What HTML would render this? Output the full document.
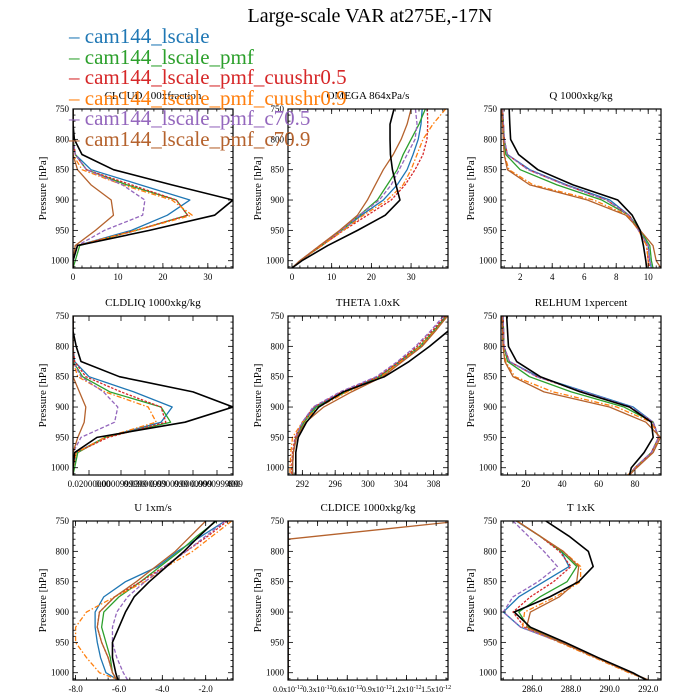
<!DOCTYPE html>
<html><head><meta charset="utf-8">
<style>
html,body{margin:0;padding:0;background:#fff;}
svg{display:block;font-family:"Liberation Serif",serif;}
</style></head>
<body>
<svg id="chart" width="700" height="700" viewBox="0 0 700 700">
<text x="370" y="22" font-size="20" text-anchor="middle">Large-scale VAR at275E,-17N</text>
<g id="panels"></g>
<g id="legend"></g>
</svg>
<script>
const levels=[750,775,800,825,850,875,900,925,950,975,1000,1012];
const cldiceLevels=[750,780,800,825,850,875,900,925,950,975,1000,1012];
const seriesNames=["obs","cam144_lscale","cam144_lscale_pmf","cam144_lscale_pmf_cuushr0.5","cam144_lscale_pmf_cuushr0.9","cam144_lscale_pmf_c70.5","cam144_lscale_pmf_c70.9"];
const seriesColors=["#000","#1f77b4","#2ca02c","#d62728","#ff7f0e","#9467bd","#b5622d"];
const seriesDash=["","","","2.5,1.5","5,2,1.5,2","4,2",""];
const seriesWidth=[1.6,1.3,1.3,1.3,1.3,1.3,1.3];

const cloudBlack=[0,0,0.3,2,9,22,35.6,31.5,17,1,0,0];
const cloudBlue=[0,0,0,0.5,4,15,26,21,13,1,0,0];
const cloudGreen=[0,0,0,0.5,3,12,23,25.5,14,1.5,0.5,0];
const cloudRed=[0,0,0,0.5,3,13,23,25.5,14,1,0,0];
const cloudOrange=[0,0,0,0,2,11,22,26.5,14,1,0,0];
const cloudPurple=[0,0,0,0.5,3,11,16,15.5,7,1,0,0];
const cloudBrown=[0,0,0,0,1,4,8.5,9,5,0.5,0,0];

const omegaBlack=[25.7,24.7,24.7,24.8,25.3,26.2,27.2,23.5,16.5,9,2.5,0];
const omegaBlue=[32.8,32.5,31.8,30.5,29,26.5,23,17.5,12.5,7.5,2,0];
const omegaGreen=[33.6,32,30,28,26.5,24,21.5,17,12.5,7.5,2,0];
const omegaRed=[34.1,34.2,34,33,31,28.5,25,19,13,7.5,2,0];
const omegaOrange=[38.7,35.5,33,31.5,30,28,24,18,13,7.5,2,0];
const omegaPurple=[31.1,31.5,31,29,27,25,22,17,12.5,7,2,0];
const omegaBrown=[30,29,27.5,25.5,23,21,19,16.5,12,7,2,0];

const qBlack=[1.31,1.35,1.4,1.9,3.1,5.3,8.1,9.0,9.5,9.7,9.85,9.9];
const qBlue=[0.9,0.95,1.0,1.2,2.6,4.9,7.6,8.8,9.4,10,10.1,10.2];
const qGreen=[0.9,0.95,1.0,1.1,2.0,4.3,7.1,8.8,9.5,10.1,10.2,10.3];
const qRed=[0.9,0.95,1.0,1.2,2.5,4.8,7.4,8.8,9.4,9.9,10.0,10.1];
const qOrange=[0.85,0.9,0.95,1.0,1.3,2.8,6.6,8.7,9.4,9.9,10.0,10.0];
const qPurple=[0.9,0.95,1.0,1.2,2.5,4.8,7.4,8.8,9.4,10,10.1,10.2];
const qBrown=[0.85,0.9,0.95,1.0,1.2,2.6,6.2,8.6,9.5,10.3,10.5,10.8];

const liqBlack=[0,0,0.02,0.05,0.29,0.75,1,0.7,0.15,0.01,0,0];
const liqBlue=[0,0,0,0.01,0.1,0.38,0.62,0.55,0.2,0.02,0,0];
const liqGreen=[0,0,0,0,0.06,0.23,0.55,0.61,0.2,0.03,0.01,0];
const liqRed=[0,0,0,0.01,0.08,0.3,0.55,0.58,0.22,0.02,0,0];
const liqOrange=[0,0,0,0,0.03,0.2,0.47,0.52,0.2,0.02,0,0];
const liqPurple=[0,0,0,0,0.05,0.19,0.28,0.26,0.05,0,0,0];
const liqBrown=[0,0,0,0,0,0.04,0.08,0.07,0.03,0,0,0];

const thetaBlack=[311,309.75,307.5,305,302,297,294,292.5,291.5,291.2,291.2,291.2];
const thetaBlue=[309.5,308,306.5,304,301.3,297,293.5,292,291.2,290.9,290.8,290.8];
const thetaGreen=[309.6,308,306.3,303.8,301.5,297.3,293.7,292.2,291.2,290.9,290.8,290.8];
const thetaRed=[309.4,307.8,306,303.8,301.2,296.8,293.4,292,291.1,290.8,290.7,290.7];
const thetaOrange=[309.7,308.1,306.4,304,301.6,297.5,294,292,290.8,290.6,290.5,290.5];
const thetaPurple=[309.2,307.6,305.8,303.6,301,296.6,293.3,292,291.2,290.9,290.8,290.8];
const thetaBrown=[309.7,308.2,306.6,304.2,301.8,298,294.6,292.4,291.3,290.9,290.8,290.8];

const rhBlack=[9.5,10,10.5,15,28,50,77,89,90,85,78,77];
const rhBlue=[7.5,7.8,8,11,27,53,79,90,93,89,80,77];
const rhGreen=[7.5,7.8,8,10,22,45,74,90,93,89,80,77];
const rhRed=[7.5,7.8,8,11,26,51,77,90,93,89,80,77];
const rhOrange=[7,7.3,7.5,9,14,35,70,89,93,90,80,76];
const rhPurple=[7.5,7.8,8,11,26,52,78,90,93,89,80,77];
const rhBrown=[7,7.3,7.5,8.5,13,30,66,86,94,90,81,77];

const uBlack=[-1.55,-2.3,-3,-3.8,-4.6,-5.3,-5.7,-6.0,-6.3,-6.3,-6.15,-6.05];
const uBlue=[-1.1,-2.2,-3.3,-4.2,-5.7,-6.7,-7.1,-7.1,-7.0,-6.85,-6.6,-6.05];
const uGreen=[-1.5,-2.4,-3.2,-4.1,-5.0,-6.0,-6.7,-6.8,-6.6,-6.4,-6.3,-6.1];
const uRed=[-1.0,-1.9,-2.9,-3.9,-5.0,-6.2,-6.9,-7.0,-6.8,-6.5,-6.3,-6.1];
const uOrange=[-0.8,-1.7,-2.6,-3.8,-4.8,-6.2,-7.5,-8.0,-8.0,-7.5,-6.9,-6.0];
const uPurple=[-1.1,-2.0,-2.9,-3.9,-4.8,-5.6,-6.1,-6.3,-6.3,-6.1,-5.8,-5.6];
const uBrown=[-2.0,-2.7,-3.4,-4.3,-5.2,-6.2,-6.9,-7.0,-6.8,-6.5,-6.3,-6.1];

const iceBlack=[0,0,0,0,0,0,0,0,0,0,0,0];
const iceBrown=[1.75,0,0,0,0,0,0,0,0,0,0,0];

const tBlack=[286.7,287.9,288.9,289.15,288.4,286.9,285.07,285.9,287.7,289.4,291.2,291.9];
const tBlue=[285.16,286.4,287.5,287.9,286.6,285.3,284.5,285.4,287.5,289.3,291.1,292.0];
const tGreen=[285.2,286.4,287.5,288.3,287.8,286.4,285.3,285.8,287.5,289.3,291.1,292.0];
const tRed=[285.2,286.4,287.4,288.0,287.1,285.9,285.0,285.6,287.5,289.3,291.1,292.0];
const tOrange=[285.2,286.4,287.6,288.5,288.5,287.2,285.6,285.5,287.4,289.2,291.0,292.0];
const tPurple=[285.0,285.8,286.6,287.3,286.3,285.0,284.5,285.4,287.5,289.3,291.1,292.0];
const tBrown=[285.2,286.4,287.6,288.4,288.3,287.4,285.9,285.7,287.5,289.3,291.1,292.0];

const cloudTicks=[0,10,20,30];
const omegaTicks=[0,10,20,30];
const qTicks=[2,4,6,8,10];
const thetaTicks=[292,296,300,304,308];
const rhTicks=[20,40,60,80];
const uTicks=[-8,-6,-4,-2];
const uTickLabels=["-8.0","-6.0","-4.0","-2.0"];
const tTicks=[286,288,290,292];
const tTickLabels=["286.0","288.0","290.0","292.0"];
const iceTicks=[0,0.3,0.6,0.9,1.2,1.5];
const liqTicks=[0.1,0.3,0.45,0.6,0.75,0.9,1.0];
const liqTickLabels=["0.02000000","0.0000999999","0.03000999","0.0300999","0.0000999","0.0000999999","400"];
const yTicks=[750,800,850,900,950,1000];

const NS="http://www.w3.org/2000/svg";
const root=document.getElementById('panels');
function mk(tag,attrs,parent){const e=document.createElementNS(NS,tag);for(const k in attrs)e.setAttribute(k,attrs[k]);(parent||root).appendChild(e);return e;}

const panels=[
 {key:"cloud",title:"CLOUD  100xfraction",x0:73,y0:109,xmin:0,xmax:35.6,ticks:cloudTicks,labels:cloudTicks.map(String),minor:2,series:[cloudBlue,cloudGreen,cloudRed,cloudOrange,cloudPurple,cloudBrown,cloudBlack],lev:levels},
 {key:"omega",title:"OMEGA  864xPa/s",x0:288,y0:109,xmin:-1,xmax:39.3,ticks:omegaTicks,labels:omegaTicks.map(String),minor:2,series:[omegaBlue,omegaGreen,omegaRed,omegaOrange,omegaPurple,omegaBrown,omegaBlack],lev:levels},
 {key:"q",title:"Q  1000xkg/kg",x0:501,y0:109,xmin:0.8,xmax:10.8,ticks:qTicks,labels:qTicks.map(String),minor:0.5,series:[qBlue,qGreen,qRed,qOrange,qPurple,qBrown,qBlack],lev:levels},
 {key:"cldliq",title:"CLDLIQ  1000xkg/kg",x0:73,y0:316,xmin:0,xmax:1,ticks:liqTicks,labels:liqTickLabels,minor:0,series:[liqBlue,liqGreen,liqRed,liqOrange,liqPurple,liqBrown,liqBlack],lev:levels},
 {key:"theta",title:"THETA  1.0xK",x0:288,y0:316,xmin:290.25,xmax:309.75,ticks:thetaTicks,labels:thetaTicks.map(String),minor:1,series:[thetaBlue,thetaGreen,thetaRed,thetaOrange,thetaPurple,thetaBrown,thetaBlack],lev:levels},
 {key:"relhum",title:"RELHUM  1xpercent",x0:501,y0:316,xmin:6.4,xmax:94.3,ticks:rhTicks,labels:rhTicks.map(String),minor:5,series:[rhBlue,rhGreen,rhRed,rhOrange,rhPurple,rhBrown,rhBlack],lev:levels},
 {key:"u",title:"U  1xm/s",x0:73,y0:521,xmin:-8.12,xmax:-0.74,ticks:uTicks,labels:uTickLabels,minor:0.5,series:[uBlue,uGreen,uRed,uOrange,uPurple,uBrown,uBlack],lev:levels},
 {key:"cldice",title:"CLDICE  1000xkg/kg",x0:288,y0:521,xmin:0,xmax:1.62,ticks:iceTicks,labels:iceTicks.map(v=>v.toFixed(1)),minor:0.1,ice:true,series:[iceBlack,iceBlack,iceBlack,iceBlack,iceBlack,iceBrown,iceBlack],lev:cldiceLevels},
 {key:"t",title:"T  1xK",x0:501,y0:521,xmin:284.38,xmax:292.66,ticks:tTicks,labels:tTickLabels,minor:0.5,series:[tBlue,tGreen,tRed,tOrange,tPurple,tBrown,tBlack],lev:levels}
];
const W=160,H=159,PMIN=750,PMAX=1012;
// series order in panel.series: blue,green,red,orange,purple,brown,black -> color index
const order=[1,2,3,4,5,6,0];

panels.forEach(p=>{
 const g=mk('g',{});
 
 
 const sx=v=>p.x0+(v-p.xmin)/(p.xmax-p.xmin)*W;
 const sy=v=>p.y0+(v-PMIN)/(PMAX-PMIN)*H;
 const clipId='clip-'+p.key;
 const cp=mk('clipPath',{id:clipId},g);
 mk('rect',{x:p.x0,y:p.y0,width:W,height:H},cp);
 const t=mk('text',{x:p.x0+W/2,y:p.y0-10,'font-size':11,'text-anchor':'middle'},g);
 t.textContent=p.title;
 
 
 const yl=mk('text',{x:0,y:0,'font-size':11,'text-anchor':'middle',transform:`translate(${p.x0-27},${p.y0+H/2}) rotate(-90)`},g);
 yl.textContent="Pressure [hPa]";
 
 
 // lines
 const lg=mk('g',{'clip-path':`url(#${clipId})`},g);
 p.series.forEach((vals,i)=>{
  const ci=order[i];
  const pts=vals.map((v,j)=>sx(v).toFixed(2)+','+sy(p.lev[j]).toFixed(2)).join(' ');
  const pl=mk('polyline',{points:pts,fill:'none',stroke:seriesColors[ci],'stroke-width':seriesWidth[ci],'stroke-dasharray':seriesDash[ci]||'none','stroke-linejoin':'round'},lg);
  
  
 });
 // frame
 const fr=mk('rect',{x:p.x0,y:p.y0,width:W,height:H,fill:'none',stroke:'#000','stroke-width':1.2},g);
 
 
 // y ticks
 for(let v=PMIN;v<=PMAX;v+=10){
  const y=sy(v);const maj=(v%50===0);const L=maj?5:2.5;
  mk('line',{x1:p.x0,y1:y,x2:p.x0+L,y2:y,stroke:'#000','stroke-width':0.8},g);
  mk('line',{x1:p.x0+W,y1:y,x2:p.x0+W-L,y2:y,stroke:'#000','stroke-width':0.8},g);
 }
 yTicks.forEach(v=>{
  const tx=mk('text',{x:p.x0-4,y:sy(v)+3,'font-size':9,'text-anchor':'end'},g);
  tx.textContent=v;
  
  
 });
 // x ticks
 if(p.minor>0){
  for(let v=Math.ceil(p.xmin/p.minor)*p.minor;v<=p.xmax+1e-9;v+=p.minor){
   const x=sx(v);
   mk('line',{x1:x,y1:p.y0+H,x2:x,y2:p.y0+H-2.5,stroke:'#000','stroke-width':0.8},g);
   mk('line',{x1:x,y1:p.y0,x2:x,y2:p.y0+2.5,stroke:'#000','stroke-width':0.8},g);
  }
 }
 p.ticks.forEach((v,i)=>{
  const x=sx(v);
  mk('line',{x1:x,y1:p.y0+H,x2:x,y2:p.y0+H-5,stroke:'#000','stroke-width':0.8},g);
  mk('line',{x1:x,y1:p.y0,x2:x,y2:p.y0+5,stroke:'#000','stroke-width':0.8},g);
  const tx=mk('text',{x:x,y:p.y0+H+12,'font-size':p.ice?8:9,'text-anchor':'middle'},g);
  if(p.ice){
   tx.textContent=p.labels[i]+'x10';
   const s=mk('tspan',{dy:-3,'font-size':6},tx);s.textContent='-12';
  } else tx.textContent=p.labels[i];
  
  
 });
});

// legend
const leg=document.getElementById('legend');
const legY=[36,57,77,98,118,139];
for(let i=1;i<7;i++){
 const t=mk('text',{x:69,y:legY[i-1]+7,'font-size':21,fill:seriesColors[i]},leg);
 t.textContent='\u2013 '+seriesNames[i];
 
 
}
</script>
</body></html>
